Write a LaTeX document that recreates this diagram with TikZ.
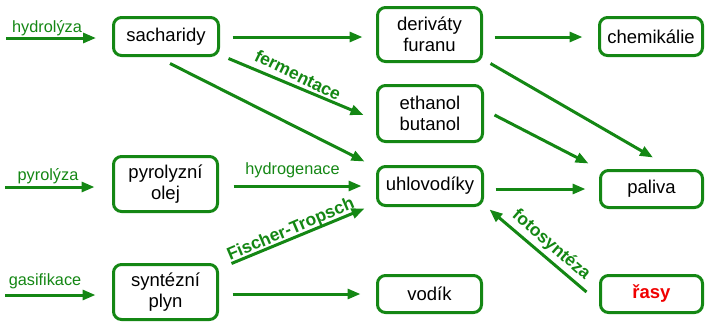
\documentclass[tikz,border=0pt]{standalone}
\usepackage{fontspec}
\setmainfont{Liberation Sans}
\usetikzlibrary{arrows.meta,calc}
\definecolor{grn}{RGB}{20,135,20}
\definecolor{rd}{RGB}{240,0,0}
\begin{document}
\begin{tikzpicture}[x=1pt,y=-1pt,
 box/.style={draw=grn, line width=3pt, rounded corners=8pt, inner sep=0pt, align=center,
   font=\fontsize{18.5}{20.5}\selectfont, text=black},
 arr/.style={draw=grn, line width=3pt, -{Triangle[length=13pt,width=10pt]}},
 lab/.style={text=grn, font=\fontsize{16.3}{18}\selectfont, inner sep=0pt, anchor=base},
 blab/.style={text=grn, font=\bfseries\fontsize{17.5}{19}\selectfont, inner sep=0pt}]
\useasboundingbox (0,0) rectangle (705,322);

% boxes
\node[box, minimum width=105pt, minimum height=38pt] (sach) at (166,36.5) {sacharidy};
\node[box, minimum width=104pt, minimum height=54pt] (deriv) at (429.5,34.5) {deriváty\\furanu};
\node[box, minimum width=103pt, minimum height=38pt] (chem) at (651,36.5) {chemikálie};
\node[box, minimum width=105pt, minimum height=56pt] (eth) at (430,113.5) {ethanol\\butanol};
\node[box, minimum width=104pt, minimum height=55pt] (pyro) at (165.5,184) {pyrolyzní\\olej};
\node[box, minimum width=105pt, minimum height=39pt] (uhl) at (430,186) {uhlovodíky};
\node[box, minimum width=102pt, minimum height=37pt] (pal) at (651.5,189) {paliva};
\node[box, minimum width=104pt, minimum height=55pt] (syn) at (165.5,292) {syntézní\\plyn};
\node[box, minimum width=104pt, minimum height=37pt] (vod) at (429.5,294) {vodík};
\node[box, minimum width=102pt, minimum height=37pt, text=rd, font=\bfseries\fontsize{18.5}{20.5}\selectfont] (ras) at (651.5,294) {řasy};

% free starts
\coordinate (h0) at (6,38);
\coordinate (p0) at (5,187);
\coordinate (g0) at (5,295);

% connectors
\draw[arr] (h0) -- ($(h0 -| sach.west)+(-16,0)$);
\draw[arr] ($(sach.east)+(12.5,0.5)$) -- ($(sach.east -| deriv.west)+(-13.5,0.5)$);
\draw[arr] ($(sach.south)+(4,6.5)$) -- ($(uhl.north west)+(-11.5,-3.5)$);
\draw[arr] ($(sach.south east)+(8.5,1.5)$) -- ($(eth.west)+(-12.5,1.5)$);
\draw[arr] ($(deriv.east)+(11.5,2.5)$) -- ($(chem.west)+(-15.5,0.5)$);
\draw[arr] ($(deriv.south east)+(7.5,0.5)$) -- ($(pal.north)+(1.5,-11.5)$);
\draw[arr] ($(eth.east)+(10.5,1.5)$) -- ($(pal.north west)+(-10.5,-5.5)$);
\draw[arr] (p0) -- ($(p0 -| pyro.west)+(-17.5,0)$);
\draw[arr] ($(pyro.east)+(14.5,2)$) -- ($(uhl.west)+(-14.5,0)$);
\draw[arr] ($(syn.north east)+(12.5,0.5)$) -- ($(uhl.south west)+(-11.5,1.5)$);
\draw[arr] (g0) -- ($(g0 -| syn.west)+(-16.5,0)$);
\draw[arr] ($(syn.east)+(13.5,2)$) -- ($(vod.west)+(-15.5,0)$);
\draw[arr] ($(uhl.east)+(11.5,3)$) -- ($(pal.west)+(-13.5,0)$);
\draw[arr] ($(ras.west)+(-12.5,-2)$) -- ($(uhl.south east)+(5.5,2.5)$);

% labels
\node[lab] (lhyd) at (47,32) {hydrolýza};
\node[lab] (lpyr) at (48,180) {pyrolýza};
\node[lab] (lgas) at (45,285) {gasifikace};
\node[lab] (lhydg) at (292.5,174) {hydrogenace};
\node[blab, rotate=-26] (lferm) at (298,75) {fermentace};
\node[blab, rotate=23] (lfis) at (291,230) {Fischer-Tropsch};
\node[blab, rotate=-41] (lfot) at (551,245) {fotosyntéza};
\end{tikzpicture}
\end{document}
